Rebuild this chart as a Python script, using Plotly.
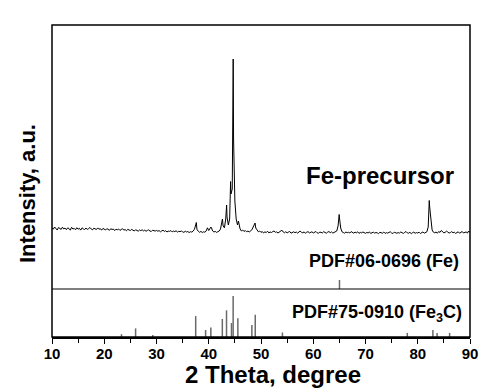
import plotly.graph_objects as go

# ---- measured XRD scan (Fe-precursor), sampled every 0.25 deg from 10 to 90 ----
scan_start = 10.0
scan_step = 0.25
scan_counts = [
    612, 598, 620, 603, 590, 615, 607, 596, 618, 601,
    609, 593, 611, 605, 588, 617, 600, 606, 592, 613,
    598, 607, 589, 612, 601, 594, 610, 596, 603, 615,
    600, 591, 608, 602, 595, 611, 597, 604, 588, 606,
    598, 590, 604, 596, 587, 603, 595, 600, 584, 598,
    592, 600, 586, 595, 603, 589, 594, 582, 597, 590,
    585, 596, 588, 580, 593, 587, 578, 590, 584, 592,
    581, 589, 577, 586, 591, 580, 575, 588, 583, 579,
    586, 578, 584, 572, 581, 588, 576, 583, 570, 579,
    576, 584, 571, 579, 574, 582, 569, 577, 573, 580,
    572, 566, 578, 570, 575, 564, 573, 569, 578, 596,
    640, 592, 574, 567, 576, 565, 572, 568, 579, 612,
    585, 600, 614, 580, 570, 576, 566, 573, 580, 600,
    660, 630, 612, 700, 720, 640, 700, 950, 1000, 1500,
    880, 700, 640, 660, 600, 580, 590, 575, 585, 572,
    580, 570, 578, 592, 620, 640, 610, 584, 572, 580,
    566, 575, 560, 572, 564, 578, 561, 570, 565, 574,
    580, 567, 571, 560, 569, 575, 588, 570, 562, 573,
    561, 569, 575, 558, 566, 572, 563, 570, 559, 574,
    580, 566, 562, 571, 557, 568, 574, 561, 567, 572,
    560, 569, 575, 562, 557, 570, 566, 561, 573, 564,
    558, 568, 575, 563, 571, 559, 566, 572, 580, 630,
    720, 610, 572, 565, 558, 570, 563, 567, 560, 574,
    565, 558, 569, 562, 572, 556, 566, 561, 570, 563,
    557, 566, 560, 571, 555, 563, 568, 559, 565, 561,
    554, 567, 562, 558, 570, 556, 563, 559, 566, 572,
    560, 555, 568, 562, 557, 565, 559, 570, 563, 556,
    566, 575, 561, 558, 567, 554, 563, 569, 557, 564,
    560, 568, 555, 563, 571, 558, 566, 572, 620, 840,
    680, 590, 568, 562, 570, 558, 575, 566, 585, 570,
    561, 567, 578, 570, 559, 565, 574, 562, 568, 556,
    564, 572, 558, 567, 575, 560, 566, 571, 559, 580,
    565,
]
# peak apex readings between grid points
peak_2theta = [37.62, 40.42, 42.62, 43.42, 44.18, 44.68, 45.68, 48.86, 64.96, 82.20, 82.40]
peak_counts = [665, 620, 700, 840, 1075, 2300, 680, 660, 745, 885, 760]

# ---- reference patterns ----
fe_2theta = [65.02]
fe_intensity = [20]

fe3c_2theta = [23.3, 26.0, 29.3, 37.5, 39.4, 40.4, 42.6, 43.4, 44.35, 44.67,
               45.57, 48.25, 48.9, 54.1, 78.0, 82.9, 83.7, 86.1]
fe3c_intensity = [7, 21, 5, 51, 17, 23, 44, 65, 34, 100,
                  46, 29, 54, 11, 10, 17, 10, 10]

x_ticks = [10, 20, 30, 40, 50, 60, 70, 80, 90]

# ---- build scan ----
pts = [(scan_start + i * scan_step, c) for i, c in enumerate(scan_counts)]
pts += list(zip(peak_2theta, peak_counts))
pts.sort()
scan_x = [p[0] for p in pts]
scan_y = [p[1] for p in pts]


def sticks(xs, hs):
    sx, sy = [], []
    for x, h in zip(xs, hs):
        sx += [x, x, None]
        sy += [0, h, None]
    return sx, sy


FONT = "Liberation Sans, Arial, sans-serif"

fig = go.Figure()
fx, fy = sticks(fe3c_2theta, fe3c_intensity)
fig.add_trace(go.Scatter(x=fx, y=fy, mode="lines", line=dict(color="#6a6a6a", width=1.5),
                         yaxis="y", showlegend=False, hoverinfo="skip"))
ex, ey = sticks(fe_2theta, fe_intensity)
fig.add_trace(go.Scatter(x=ex, y=ey, mode="lines", line=dict(color="#6a6a6a", width=1.5),
                         yaxis="y2", showlegend=False, hoverinfo="skip"))
fig.add_trace(go.Scatter(x=scan_x, y=scan_y, mode="lines", line=dict(color="black", width=1),
                         yaxis="y3", showlegend=False, hoverinfo="skip"))

split = 48 / 312

fig.update_layout(
    width=480, height=392,
    margin=dict(l=52, r=10, t=25, b=55, autoexpand=False),
    paper_bgcolor="white", plot_bgcolor="white",
    showlegend=False,
    xaxis=dict(range=[10, 90], tickvals=x_ticks, ticks="outside", ticklen=5, tickwidth=1,
               tickcolor="black", showgrid=False, zeroline=False, showline=True,
               linecolor="black", linewidth=1.5, automargin=False, ticklabelstandoff=-3,
               tickfont=dict(family=FONT, size=15, color="black", weight="bold"),
               minor=dict(dtick=5, ticks="outside", ticklen=4, tickcolor="black", showgrid=False)),
    yaxis=dict(domain=[0, split], range=[0, 117], visible=False, automargin=False),
    yaxis2=dict(domain=[split, 1], range=[0, 586.7], visible=False, automargin=False),
    yaxis3=dict(overlaying="y2", range=[0, 2640], visible=False, automargin=False),
    shapes=[
        dict(type="rect", xref="paper", yref="paper", x0=0, x1=1, y0=0, y1=1,
             line=dict(color="black", width=1.5), layer="above"),
        dict(type="line", xref="paper", yref="paper", x0=0, x1=1, y0=split, y1=split,
             line=dict(color="black", width=1), layer="above"),
    ],
    annotations=[
        dict(text="2 Theta, degree", xref="paper", yref="paper", x=(272.5 - 52) / 418,
             y=(337 - 374) / 312,
             xanchor="center", yanchor="middle", showarrow=False,
             font=dict(family=FONT, size=24, color="black", weight="bold")),
        dict(text="Intensity, a.u.", xref="paper", yref="paper", x=(27 - 52) / 418, y=(337 - 194) / 312,
             xanchor="center", yanchor="middle", textangle=-90, showarrow=False,
             font=dict(family=FONT, size=22, color="black", weight="bold")),
        dict(text="Fe-precursor", xref="paper", yref="paper", x=(456 - 52) / 418, y=(337 - 176) / 312,
             xanchor="right", yanchor="middle", showarrow=False,
             font=dict(family=FONT, size=24, color="black", weight="bold")),
        dict(text="PDF#06-0696 (Fe)", xref="paper", yref="paper", x=(461 - 52) / 418, y=(337 - 261) / 312,
             xanchor="right", yanchor="middle", showarrow=False,
             font=dict(family=FONT, size=18, color="black", weight="bold")),
        dict(text="PDF#75-0910 (Fe<sub>3</sub>C)", xref="paper", yref="paper", x=(464 - 52) / 418,
             y=(337 - 313) / 312,
             xanchor="right", yanchor="middle", showarrow=False,
             font=dict(family=FONT, size=18, color="black", weight="bold")),
    ],
)

fig.write_html("out.html")
